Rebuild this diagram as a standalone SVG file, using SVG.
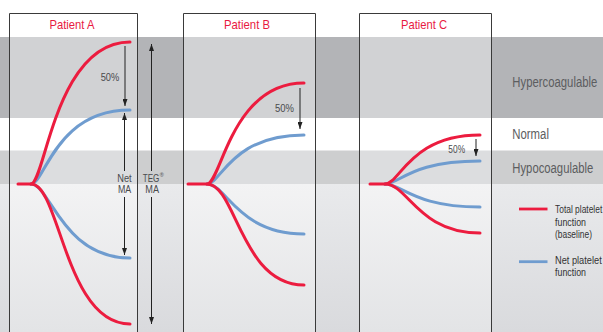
<svg xmlns="http://www.w3.org/2000/svg" width="603" height="332" viewBox="0 0 603 332">
<defs>
<linearGradient id="lowOut" x1="0" y1="0" x2="0" y2="1"><stop offset="0" stop-color="#e9eaec"/><stop offset="1" stop-color="#d9dadd"/></linearGradient>
<linearGradient id="lowIn" x1="0" y1="0" x2="0" y2="1"><stop offset="0" stop-color="#f3f3f4"/><stop offset="1" stop-color="#e3e4e6"/></linearGradient>
<marker id="ah" viewBox="0 0 7 5" refX="7" refY="2.5" markerWidth="7" markerHeight="5" markerUnits="userSpaceOnUse" orient="auto-start-reverse"><path d="M0,0 L7,2.5 L0,5 z" fill="#222"/></marker>
<style>
.box{fill:none;stroke:#3a3a3a;stroke-width:1}
.hin{fill:#d1d2d4}.pin{fill:#dcdddf}.lin{fill:url(#lowIn)}
.red{fill:none;stroke:#ec1c3f;stroke-width:3;stroke-linecap:round}
.blue{fill:none;stroke:#6f9ccf;stroke-width:3;stroke-linecap:round}
.arr{stroke:#222;stroke-width:1;fill:none}
.t{font-family:"Liberation Sans",Arial,sans-serif}
.title{font-size:13.5px;fill:#e8193f;text-anchor:middle}
.lab{font-size:10.5px;fill:#4a4b4d;text-anchor:middle}
.band{font-size:14.5px;fill:#5c5d60}
.leg{font-size:11px;fill:#333}
</style>
</defs>
<g id="background">
<rect x="0" y="0" width="603" height="332" fill="#fff"/>
<rect x="0" y="37" width="603" height="81" fill="#b3b4b7"/>
<rect x="0" y="150.5" width="603" height="33.5" fill="#cdcecf"/>
<rect x="0" y="184" width="603" height="148" fill="url(#lowOut)"/>
</g>
<g id="patient-a">
<rect x="9" y="13" width="128" height="319" fill="#fff"/>
<rect x="9" y="37" width="128" height="81" class="hin"/>
<rect x="9" y="150.5" width="128" height="33.5" class="pin"/>
<rect x="9" y="184" width="128" height="148" class="lin"/>
<path class="box" d="M9.5,333 V13.5 H137.5 V333"/>
<text class="t title" x="72" y="29" textLength="45" lengthAdjust="spacingAndGlyphs">Patient A</text>
<path class="blue" d="M31,184 C45,184 55,110 130,110"/>
<path class="blue" d="M31,184 C50,184 62,258 130,258"/>
<path class="red" d="M18,184 H31 C45,184 55,42 130,42"/>
<path class="red" d="M31,184 C60,184 65,324 130,324"/>
</g>
<g id="patient-b">
<rect x="183" y="13" width="133" height="319" fill="#fff"/>
<rect x="183" y="37" width="133" height="81" class="hin"/>
<rect x="183" y="150.5" width="133" height="33.5" class="pin"/>
<rect x="183" y="184" width="133" height="148" class="lin"/>
<path class="box" d="M183.5,333 V13.5 H315.5 V333"/>
<text class="t title" x="247" y="29" textLength="46" lengthAdjust="spacingAndGlyphs">Patient B</text>
<path class="blue" d="M207,184 C221,184 231,135 304,135"/>
<path class="blue" d="M207,184 C226,184 238,234 304,234"/>
<path class="red" d="M188,184 H207 C221,184 231,83 304,83"/>
<path class="red" d="M207,184 C236,184 241,285 304,285"/>
</g>
<g id="patient-c">
<rect x="359" y="13" width="133" height="319" fill="#fff"/>
<rect x="359" y="37" width="133" height="81" class="hin"/>
<rect x="359" y="150.5" width="133" height="33.5" class="pin"/>
<rect x="359" y="184" width="133" height="148" class="lin"/>
<path class="box" d="M359.5,333 V13.5 H491.5 V333"/>
<text class="t title" x="424" y="29" textLength="46" lengthAdjust="spacingAndGlyphs">Patient C</text>
<path class="blue" d="M385,184 C400,184 410,161 480,161"/>
<path class="blue" d="M385,184 C402,184 414,207 480,207"/>
<path class="red" d="M370,184 H385 C400,184 410,135 480,135"/>
<path class="red" d="M385,184 C408,184 418,233 480,233"/>
</g>
<g id="connectors">
<line class="arr" x1="125" y1="46" x2="125" y2="106" marker-end="url(#ah)"/>
<line class="arr" x1="124.5" y1="113" x2="124.5" y2="171" marker-start="url(#ah)"/>
<line class="arr" x1="124.5" y1="197" x2="124.5" y2="255" marker-end="url(#ah)"/>
<line class="arr" x1="151.5" y1="44" x2="151.5" y2="171" marker-start="url(#ah)"/>
<line class="arr" x1="151.5" y1="197" x2="151.5" y2="324" marker-end="url(#ah)"/>
<line class="arr" x1="300" y1="88" x2="300" y2="129" marker-end="url(#ah)"/>
<line class="arr" x1="476" y1="139" x2="476" y2="156" marker-end="url(#ah)"/>
</g>
<g id="labels">
<text class="t lab" x="110" y="81" textLength="18.6" lengthAdjust="spacingAndGlyphs">50%</text>
<text class="t lab" x="124.5" y="181.7" textLength="14.4" lengthAdjust="spacingAndGlyphs">Net</text>
<text class="t lab" x="124.6" y="193.3" textLength="13.3" lengthAdjust="spacingAndGlyphs">MA</text>
<text class="t lab" transform="translate(151,181.7) scale(0.77,1)" x="0" y="0">TEG</text>
<text class="t" x="159.8" y="177" font-size="5.5" fill="#4a4b4d">®</text>
<text class="t lab" x="152.2" y="193.3" textLength="13.7" lengthAdjust="spacingAndGlyphs">MA</text>
<text class="t lab" x="284.5" y="111.7" textLength="19" lengthAdjust="spacingAndGlyphs">50%</text>
<text class="t lab" x="456.7" y="153.3" font-size="8" textLength="16.7" lengthAdjust="spacingAndGlyphs">50%</text>
</g>
<g id="band-labels">
<text class="t band" transform="translate(512.3,86.7) scale(0.78,1)" textLength="109" lengthAdjust="spacingAndGlyphs">Hypercoagulable</text>
<text class="t band" transform="translate(512.3,139.3) scale(0.78,1)" textLength="47" lengthAdjust="spacingAndGlyphs">Normal</text>
<text class="t band" transform="translate(512.3,172.7) scale(0.78,1)" textLength="103.8" lengthAdjust="spacingAndGlyphs">Hypocoagulable</text>
</g>
<g id="legend">
<line x1="519" y1="209" x2="547.5" y2="209" stroke="#ec1c3f" stroke-width="2.8"/>
<line x1="519" y1="261.7" x2="547.5" y2="261.7" stroke="#6f9ccf" stroke-width="2.8"/>
<text class="t leg" transform="translate(555,213.3) scale(0.76,1)" textLength="62.2" lengthAdjust="spacingAndGlyphs">Total platelet</text>
<text class="t leg" transform="translate(555,225.7) scale(0.84,1)" textLength="36.9" lengthAdjust="spacingAndGlyphs">function</text>
<text class="t leg" transform="translate(555,237.7) scale(0.84,1)" textLength="44" lengthAdjust="spacingAndGlyphs">(baseline)</text>
<text class="t leg" transform="translate(555,264) scale(0.84,1)" textLength="55.6" lengthAdjust="spacingAndGlyphs">Net platelet</text>
<text class="t leg" transform="translate(555,276) scale(0.84,1)" textLength="36.9" lengthAdjust="spacingAndGlyphs">function</text>
</g>
</svg>
